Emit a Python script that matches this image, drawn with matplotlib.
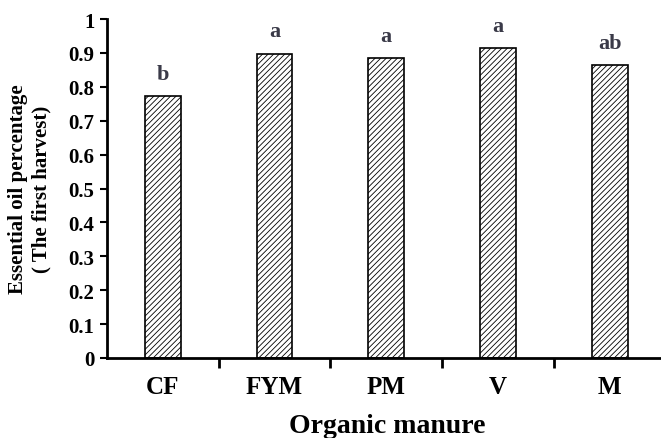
import matplotlib
matplotlib.use("Agg")
from matplotlib import pyplot as plt
import numpy as np

# data
categories = ["CF", "FYM", "PM", "V", "M"]
oil_percentage = [0.772, 0.897, 0.884, 0.913, 0.863]
significance = ["b", "a", "a", "a", "ab"]
y_ticks = [0, 0.1, 0.2, 0.3, 0.4, 0.5, 0.6, 0.7, 0.8, 0.9, 1]
y_tick_labels = ["0", "0.1", "0.2", "0.3", "0.4", "0.5", "0.6", "0.7", "0.8", "0.9", "1"]

plt.rcParams["font.family"] = ["Liberation Serif", "DejaVu Serif"]
plt.rcParams["font.weight"] = "bold"
plt.rcParams["hatch.linewidth"] = 0.6

fig = plt.figure(figsize=(6.61, 4.39), dpi=100)
# axes runs a little past the right edge, as in the reference
ax = fig.add_axes([107 / 661, 80 / 439, 558.5 / 661, 339 / 439])

x = np.arange(len(categories))
ax.bar(x, oil_percentage, width=0.32, color="white", edgecolor="black",
       linewidth=1.2, hatch="//////")

for xi, val, letter in zip(x, oil_percentage, significance):
    ax.annotate(letter, (xi, val), textcoords="offset points", xytext=(0, 9),
                ha="center", va="bottom", fontsize=16, fontweight="bold",
                color="#3a3a48")

ax.set_xlim(-0.5, len(categories) - 0.5)
ax.set_ylim(0, 1)

ax.set_yticks(y_ticks)
ax.set_yticklabels(y_tick_labels)
ax.tick_params(axis="y", direction="out", length=5, width=1.5, pad=4,
               labelsize=15)

ax.set_xticks(x)
ax.set_xticklabels(categories)
ax.set_xticks(np.arange(0.5, len(categories) - 0.5, 1), minor=True)
ax.tick_params(axis="x", which="major", length=0, pad=12, labelsize=18)
ax.tick_params(axis="x", which="minor", direction="out", length=7, width=2)

for label in ax.get_xticklabels() + ax.get_yticklabels():
    label.set_fontweight("bold")

ax.spines["top"].set_visible(False)
ax.spines["right"].set_visible(False)
ax.spines["left"].set_linewidth(2)
ax.spines["bottom"].set_linewidth(2)

ax.set_ylabel("Essential oil percentage\n( The first harvest)", fontsize=15,
              fontweight="bold", linespacing=1.25, va="center", ha="center")
ax.yaxis.set_label_coords(-0.138, 0.5)
ax.set_xlabel("Organic manure", fontsize=20, fontweight="bold", va="center")
ax.xaxis.set_label_coords(0.501, -0.198)

plt.savefig("out.png", dpi=100)
